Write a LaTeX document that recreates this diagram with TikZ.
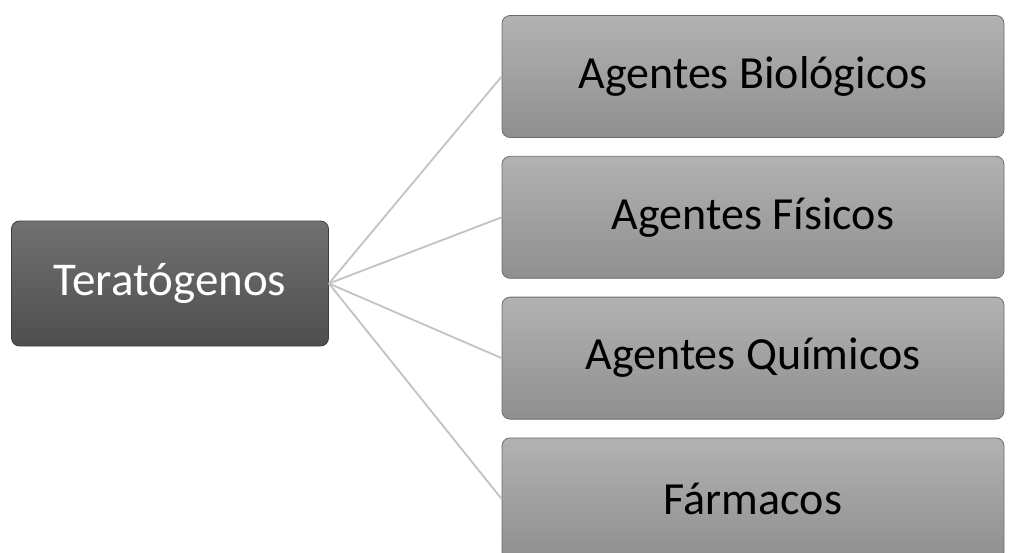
\documentclass[tikz,border=0pt]{standalone}
\usepackage{fontspec}
\setmainfont{Carlito}
\usepackage{tikz}
\usetikzlibrary{positioning}

\definecolor{rootTop}{HTML}{717171}
\definecolor{rootBot}{HTML}{4E4E4E}
\definecolor{leafTop}{HTML}{B2B2B2}
\definecolor{leafBot}{HTML}{8F8F8F}
\definecolor{linkGray}{HTML}{C3C3C3}

\begin{document}
\begin{tikzpicture}[
  x=1pt, y=-1pt,
  node distance=18pt,
  root/.style={draw=rootBot!80!black, line width=0.8pt, rounded corners=8pt,
               top color=rootTop, bottom color=rootBot, text=white,
               minimum width=317pt, minimum height=125pt, inner sep=0pt,
               font=\fontsize{47}{54}\selectfont},
  leaf/.style={draw=gray!85!black, line width=0.8pt, rounded corners=8pt,
               top color=leafTop, bottom color=leafBot, text=black,
               minimum width=502pt, minimum height=122pt, inner sep=0pt,
               font=\fontsize{46}{54}\selectfont},
  link/.style={draw=linkGray, line width=1.8pt}
]
\useasboundingbox (0,0) rectangle (1011,552);

% left node
\node[root] (tera) at (170,283.5) {Teratógenos};

% right column
\node[leaf] (bio) at (753,76.5) {Agentes Biológicos};
\node[leaf, below=of bio] (fis) {Agentes Físicos};
\node[leaf, below=of fis] (qui) {Agentes Químicos};
\node[leaf, below=of qui] (far) {Fármacos};

% links
\draw[link] (tera.east) -- (bio.west);
\draw[link] (tera.east) -- (fis.west);
\draw[link] (tera.east) -- (qui.west);
\draw[link] (tera.east) -- (far.west);
\end{tikzpicture}
\end{document}
